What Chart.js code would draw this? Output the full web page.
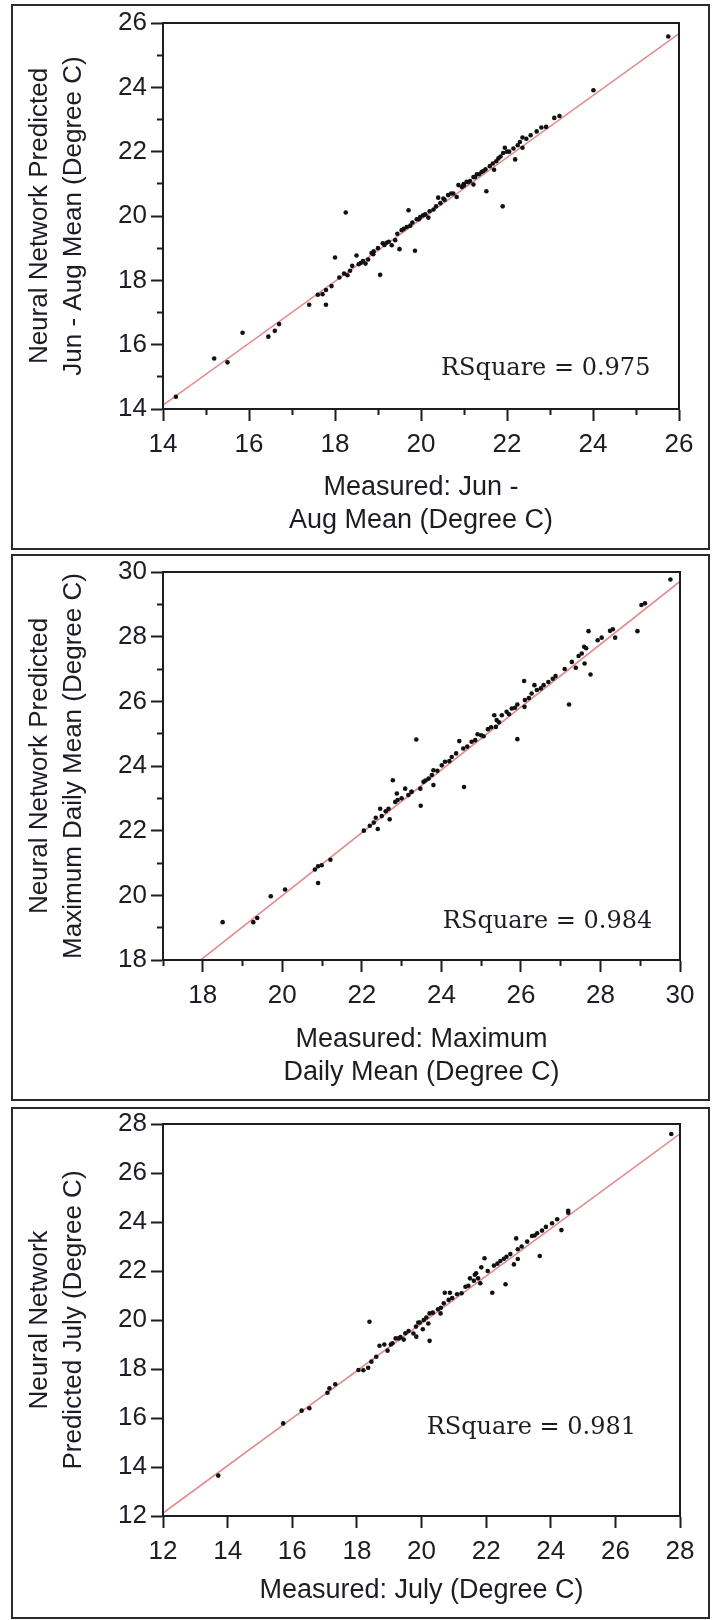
<!DOCTYPE html>
<html><head><meta charset="utf-8">
<script src="https://cdn.jsdelivr.net/npm/chart.js@4.4.1/dist/chart.umd.min.js"></script>
<style>
html,body{margin:0;padding:0;background:#fff;}
body{width:712px;height:1620px;position:relative;overflow:hidden;}
.box{position:absolute;left:11px;width:699px;border:2px solid #2a2a2a;box-sizing:border-box;}
canvas{position:absolute;left:0;}
</style></head><body>
<div class="box" style="top:4px;height:546px"></div>
<div class="box" style="top:554px;height:547px"></div>
<div class="box" style="top:1107px;height:512px"></div>
<canvas id="c1" style="top:0px;width:712px;height:552px" width="712" height="552"></canvas>
<canvas id="c2" style="top:552px;width:712px;height:552px" width="712" height="552"></canvas>
<canvas id="c3" style="top:1104px;width:712px;height:516px" width="712" height="516"></canvas>
<script>
// ---------- Panel 1: Jun - Aug Mean ----------
const p1Measured = [14.30,15.19,15.50,15.85,16.45,16.60,16.70,17.40,17.79,17.71,17.79,17.92,18.00,18.10,18.21,18.29,18.25,18.50,18.60,18.71,18.77,18.89,19.05,19.11,19.20,19.32,19.40,19.50,19.55,19.67,19.71,19.86,19.98,20.05,20.17,20.29,20.40,20.52,20.63,20.83,20.87,20.99,21.06,21.14,21.22,21.22,21.26,21.41,21.52,21.67,21.70,21.80,21.90,21.91,21.95,22.15,22.19,22.30,22.36,22.36,22.55,22.69,22.91,23.10,23.22,24.01,25.75,
  18.40,18.90,19.80,19.90,20.20,20.45,20.70,20.95,21.00,21.30,21.50,21.60,22.00,17.60,
  18.35,18.55,18.65,18.85,19.00,19.15,19.25,19.45,19.60,19.75,19.95,20.10,20.35,20.55,20.75,21.10,21.35,21.45,21.75,21.85,22.05,22.25,22.45,22.80];
const p1Predicted = [14.38,15.57,15.45,16.37,16.25,16.43,16.64,17.24,17.24,17.57,17.70,17.82,18.71,18.09,18.21,18.16,20.11,18.77,18.54,18.52,18.65,18.81,18.17,19.15,19.17,19.09,19.25,18.97,19.56,19.66,20.18,18.92,19.97,20.02,19.95,20.20,20.57,20.54,20.65,20.59,20.96,20.99,21.06,21.09,21.21,20.98,21.21,21.37,20.77,21.63,21.44,21.79,20.30,21.96,22.12,22.10,21.76,22.30,22.44,22.12,22.51,22.63,22.77,23.05,23.11,23.91,25.58,
  18.45,18.90,19.80,19.90,20.15,20.40,20.70,20.90,20.95,21.30,21.45,21.55,22.00,17.55,
  18.30,18.50,18.60,18.85,19.00,19.10,19.20,19.45,19.60,19.70,19.90,20.05,20.30,20.50,20.70,21.05,21.30,21.40,21.70,21.85,22.00,22.20,22.40,22.75];
const p1FitX = [14, 26];
const p1FitY = [14.12, 25.67];
const p1XTicks = [14,16,18,20,22,24,26];
const p1XMinor = [15,17,19,21,23,25];
const p1YTicks = [14,16,18,20,22,24,26];
const p1YMinor = [15,17,19,21,23,25];
const p1XTitle = ['Measured: Jun -', 'Aug Mean (Degree C)'];
const p1YTitle = ['Neural Network Predicted', 'Jun - Aug Mean (Degree C)'];
const p1RSquare = 'RSquare = 0.975';

// ---------- Panel 2: Maximum Daily Mean ----------
const p2Measured = [18.50,19.27,19.37,19.71,20.07,20.82,20.90,20.99,20.90,21.21,
  29.76,29.03,29.12,28.93,27.70,28.24,28.31,28.37,27.93,28.03,27.59,27.64,27.53,27.60,27.28,27.38,27.75,27.21,26.87,26.69,26.57,26.34,26.40,26.27,26.08,26.10,26.09,25.91,25.77,25.64,25.52,25.33,25.39,25.37,25.17,25.06,24.91,25.91,24.76,24.45,24.55,24.37,24.26,24.09,24.01,23.80,23.76,23.68,23.80,23.55,23.47,23.37,22.78,23.09,22.88,22.84,23.17,23.48,24.57,22.46,22.67,
  22.05,22.30,22.40,22.50,22.60,22.70,23.00,23.25,
  22.20,22.35,22.90,23.25,23.60,23.90,24.20,24.65,24.85,25.00,25.25,25.45,25.70,25.85,26.20,26.50,26.80,27.10,27.45];
const p2Predicted = [19.17,19.17,19.30,19.97,20.18,20.80,20.90,20.93,20.38,21.10,
  29.77,28.98,29.03,28.17,28.17,28.18,28.23,27.97,27.89,27.97,27.69,27.64,27.48,27.17,27.22,27.04,26.83,25.90,26.78,26.60,26.50,26.50,26.35,26.24,26.63,26.04,25.83,25.90,25.78,25.68,25.57,25.57,25.42,25.21,25.14,24.92,24.98,24.83,24.75,24.77,24.54,24.39,24.28,24.13,24.02,23.87,23.72,23.61,23.41,23.51,23.30,24.82,23.56,23.30,23.15,22.89,23.10,22.77,23.35,22.68,22.68,
  22.00,22.25,22.05,22.45,22.60,22.35,23.00,23.20,
  22.15,22.40,22.95,23.20,23.55,23.85,24.15,24.60,24.80,24.95,25.20,25.35,25.60,25.80,26.10,26.40,26.70,27.00,27.40];
const p2FitX = [17, 30];
const p2FitY = [17.08, 29.71];
const p2XTicks = [18,20,22,24,26,28,30];
const p2XMinor = [17,19,21,23,25,27,29];
const p2YTicks = [18,20,22,24,26,28,30];
const p2YMinor = [19,21,23,25,27,29];
const p2XTitle = ['Measured: Maximum', 'Daily Mean (Degree C)'];
const p2YTitle = ['Neural Network Predicted', 'Maximum Daily Mean (Degree C)'];
const p2RSquare = 'RSquare = 0.984';

// ---------- Panel 3: July ----------
const p3Measured = [13.71,15.72,16.29,16.53,17.09,17.15,17.33,18.05,
  27.73,24.54,24.54,24.20,24.04,24.33,23.73,23.58,23.42,23.27,22.93,23.66,22.98,22.75,22.63,22.98,22.86,22.44,22.24,21.95,21.85,21.69,21.62,21.82,22.60,22.19,21.36,21.24,20.88,20.72,20.84,20.69,20.51,20.59,20.25,20.07,20.21,19.83,20.04,18.39,19.50,19.30,19.84,
  18.20,18.35,18.70,18.85,18.95,19.05,19.20,19.45,19.75,20.25,18.45,19.90,
  18.60,19.10,19.35,19.60,19.95,20.15,20.35,20.60,20.95,21.10,21.45,21.75,22.05,22.35,22.55,23.10,23.50,23.85,21.50,21.65];
const p3Predicted = [13.65,15.78,16.30,16.40,17.03,17.21,17.38,17.96,
  27.59,24.46,24.38,24.11,23.95,23.67,23.65,23.54,23.43,23.20,23.33,22.61,22.89,22.69,22.58,22.49,22.27,22.41,22.22,22.52,22.15,21.91,21.60,21.50,21.46,21.11,21.36,21.09,21.11,21.11,20.82,20.68,20.44,20.27,20.27,20.00,19.86,19.73,19.62,19.93,19.46,19.25,19.32,
  17.95,18.05,18.95,19.00,18.75,19.00,19.25,19.20,19.45,19.15,18.30,19.90,
  18.50,19.05,19.30,19.55,19.90,20.10,20.30,20.50,20.90,21.05,21.40,21.70,22.00,22.30,22.50,23.00,23.45,23.80,21.70,21.85];
const p3FitX = [12, 28];
const p3FitY = [12.12, 27.60];
const p3XTicks = [12,14,16,18,20,22,24,26,28];
const p3YTicks = [12,14,16,18,20,22,24,26,28];
const p3XTitle = 'Measured: July (Degree C)';
const p3YTitle = ['Neural Network', 'Predicted July (Degree C)'];
const p3RSquare = 'RSquare = 0.981';

// ---------- rendering ----------
const INK = '#1c1c24';
const SANS = "'Liberation Sans Narrow', 'Arial Narrow', 'Liberation Sans', Arial, sans-serif";

const framePlugin = {
  id: 'frame',
  afterDatasetsDraw(chart) {
    const a = chart.chartArea, ctx = chart.ctx;
    ctx.save();
    ctx.strokeStyle = INK; ctx.lineWidth = 2;
    ctx.strokeRect(a.left, a.top, a.right - a.left, a.bottom - a.top);
    ctx.restore();
  }
};
const rsqPlugin = {
  id: 'rsq',
  afterDraw(chart, args, o) {
    const ctx = chart.ctx;
    const px = chart.scales.x.getPixelForValue(o.at[0]);
    const py = chart.scales.y.getPixelForValue(o.at[1]);
    ctx.save();
    ctx.font = "24px 'DejaVu Serif', 'Liberation Serif', serif";
    ctx.fillStyle = INK; ctx.textAlign = 'center'; ctx.textBaseline = 'middle';
    ctx.fillText(o.text, px, py);
    ctx.restore();
  }
};

function setTicks(vals) { return s => { s.ticks = vals.map(v => ({ value: v })); }; }

function makePanel(id, cfg) {
  const H = cfg.height;
  const pts = cfg.mx.map((x, i) => ({ x, y: cfg.my[i] }));
  const fit = cfg.fx.map((x, i) => ({ x, y: cfg.fy[i] }));
  const scales = {
    x: {
      type: 'linear', position: 'bottom', min: cfg.xmin, max: cfg.xmax,
      afterBuildTicks: setTicks(cfg.xt),
      ticks: { font: { family: SANS, size: 26, lineHeight: 1.2 }, color: INK, padding: 8, maxRotation: 0, autoSkip: false },
      grid: { drawOnChartArea: false, drawTicks: true, tickLength: 12, tickWidth: 2, tickColor: INK },
      border: { display: true, width: 2, color: INK },
      title: { display: true, text: cfg.xtitle, color: INK,
        font: { family: SANS, size: 27, lineHeight: '33px' }, padding: { top: 0, bottom: cfg.xtPad } },
      afterFit: s => { s.height = H - cfg.plotBottom; }
    },
    y: {
      type: 'linear', position: 'left', min: cfg.ymin, max: cfg.ymax,
      afterBuildTicks: setTicks(cfg.yt),
      ticks: { font: { family: SANS, size: 26 }, color: INK, padding: 4, autoSkip: false },
      grid: { drawOnChartArea: false, drawTicks: true, tickLength: 12, tickWidth: 2, tickColor: INK },
      border: { display: true, width: 2, color: INK },
      title: { display: true, text: cfg.ytitle, color: INK,
        font: { family: SANS, size: 26, lineHeight: '34px' }, padding: { top: 23, bottom: 0 } },
      afterFit: s => { s.width = 163; }
    }
  };
  if (cfg.xm) {
    scales.xm = {
      type: 'linear', position: 'bottom', weight: -1, min: cfg.xmin, max: cfg.xmax,
      afterBuildTicks: setTicks(cfg.xm),
      ticks: { display: false },
      grid: { drawOnChartArea: false, drawTicks: true, tickLength: 6, tickWidth: 2, tickColor: INK },
      border: { display: false },
      afterFit: s => { s.height = 0; }
    };
    scales.ym = {
      type: 'linear', position: 'left', weight: -1, min: cfg.ymin, max: cfg.ymax,
      afterBuildTicks: setTicks(cfg.ym),
      ticks: { display: false },
      grid: { drawOnChartArea: false, drawTicks: true, tickLength: 6, tickWidth: 2, tickColor: INK },
      border: { display: false },
      afterFit: s => { s.width = 0; }
    };
  }
  return new Chart(document.getElementById(id), {
    type: 'scatter',
    data: {
      datasets: [
        { label: 'points', data: pts, xAxisID: 'x', yAxisID: 'y', order: 0,
          pointRadius: 2.3, pointBackgroundColor: '#111', pointBorderWidth: 0, pointHoverRadius: 2.3 },
        { label: 'fit', data: fit, xAxisID: 'x', yAxisID: 'y', order: 1, showLine: true,
          borderColor: '#e38a8a', borderWidth: 1.6, pointRadius: 0, pointHoverRadius: 0 }
      ]
    },
    options: {
      responsive: false, animation: false, devicePixelRatio: 1,
      layout: { padding: { top: cfg.plotTop, right: 712 - cfg.plotRight, left: 0, bottom: 0 } },
      plugins: { legend: { display: false }, tooltip: { enabled: false },
        rsq: { text: cfg.rsq, at: cfg.rsqAt } },
      events: [],
      scales
    },
    plugins: [framePlugin, rsqPlugin]
  });
}

makePanel('c1', { height: 552, plotTop: 23, plotBottom: 409, plotRight: 679,
  xmin: 14, xmax: 26, ymin: 14, ymax: 26,
  mx: p1Measured, my: p1Predicted, fx: p1FitX, fy: p1FitY,
  xt: p1XTicks, xm: p1XMinor, yt: p1YTicks, ym: p1YMinor,
  xtitle: p1XTitle, ytitle: p1YTitle, xtPad: 15, rsq: p1RSquare, rsqAt: [22.9, 15.24] });

makePanel('c2', { height: 552, plotTop: 20, plotBottom: 408, plotRight: 680,
  xmin: 17, xmax: 30, ymin: 18, ymax: 30,
  mx: p2Measured, my: p2Predicted, fx: p2FitX, fy: p2FitY,
  xt: p2XTicks, xm: p2XMinor, yt: p2YTicks, ym: p2YMinor,
  xtitle: p2XTitle, ytitle: p2YTitle, xtPad: 15, rsq: p2RSquare, rsqAt: [26.67, 19.18] });

makePanel('c3', { height: 516, plotTop: 20, plotBottom: 412, plotRight: 680,
  xmin: 12, xmax: 28, ymin: 12, ymax: 28,
  mx: p3Measured, my: p3Predicted, fx: p3FitX, fy: p3FitY,
  xt: p3XTicks, xm: null, yt: p3YTicks, ym: null,
  xtitle: p3XTitle, ytitle: p3YTitle, xtPad: 13, rsq: p3RSquare, rsqAt: [23.4, 15.6] });
</script>
</body></html>
